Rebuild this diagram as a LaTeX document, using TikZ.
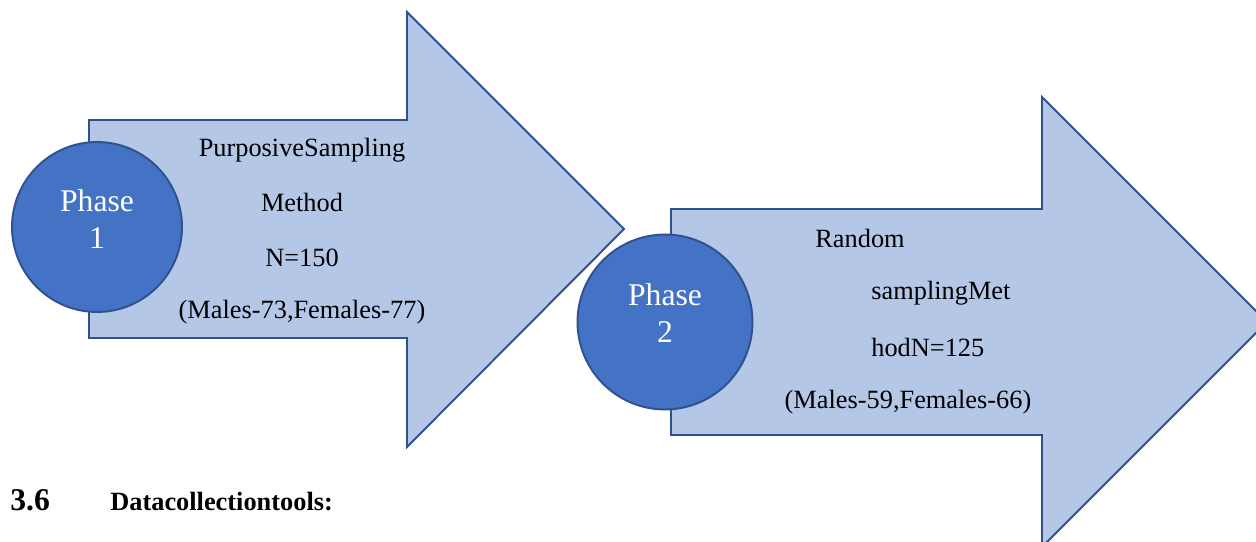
\documentclass[tikz,border=0pt]{standalone}
\usepackage{fontspec}
\setmainfont{Liberation Serif}
\definecolor{arrowfill}{HTML}{B4C7E7}
\definecolor{phaseblue}{HTML}{4472C4}
\definecolor{edgeblue}{HTML}{2F528F}
\begin{document}
\begin{tikzpicture}[x=0.02cm, y=-0.02cm,
	bigarrow/.style={draw=edgeblue, fill=arrowfill, line width=1.1pt, line join=miter},
	phase/.style={circle, draw=edgeblue, fill=phaseblue, line width=1.1pt, inner sep=0pt},
	phasetext/.style={text=white, align=center, inner sep=0pt, font=\fontsize{18}{21.5}\selectfont},
	info/.style={inner sep=0pt, font=\fontsize{15}{18}\selectfont}]
	    % Page frame
		\useasboundingbox (0, 0) rectangle (1256, 541);
		\begin{scope}
		\clip (0, 0) rectangle (1256, 541);

		% First arrow
		\draw[bigarrow] (89, 120) -- (407, 120) -- (407, 12) -- (624, 229) -- (407, 447) -- (407, 338) -- (89, 338) -- cycle;
		\node[phase, minimum size=3.4cm] (phase1) at (97, 227) {};
		\node[phasetext] (phase1text) at (97, 219) {Phase\\1};

		\node[info] (purposive) at (302, 150) {PurposiveSampling};
		\node[info] (method) at (302, 202) {Method};
		\node[info] (n150) at (302, 258) {N=150};
		\node[info] (split1) at (302, 312) {(Males-73,Females-77)};

		% Second arrow
		\draw[bigarrow] (671, 209) -- (1042, 209) -- (1042, 97) -- (1267, 322) -- (1042, 547) -- (1042, 435) -- (671, 435) -- cycle;
		\node[phase, minimum size=3.5cm] (phase2) at (665, 322) {};
		\node[phasetext] (phase2text) at (665, 313) {Phase\\2};

		\node[info, anchor=west] (random) at (815, 238) {Random};
		\node[info, anchor=west] (samplingmet) at (871, 293) {samplingMet};
		\node[info, anchor=west] (hodn) at (871, 347) {hodN=125};
		\node[info] (split2) at (908, 402) {(Males-59,Females-66)};
		\end{scope}

		% Section heading
		\node[anchor=base west, inner sep=0pt, font=\fontsize{18}{21}\selectfont\bfseries] (secnum) at (10, 510) {3.6};
		\node[anchor=base west, inner sep=0pt, font=\fontsize{15}{18}\selectfont\bfseries] (sectitle) at (110, 510) {Datacollectiontools:};
	\end{tikzpicture}
\end{document}
